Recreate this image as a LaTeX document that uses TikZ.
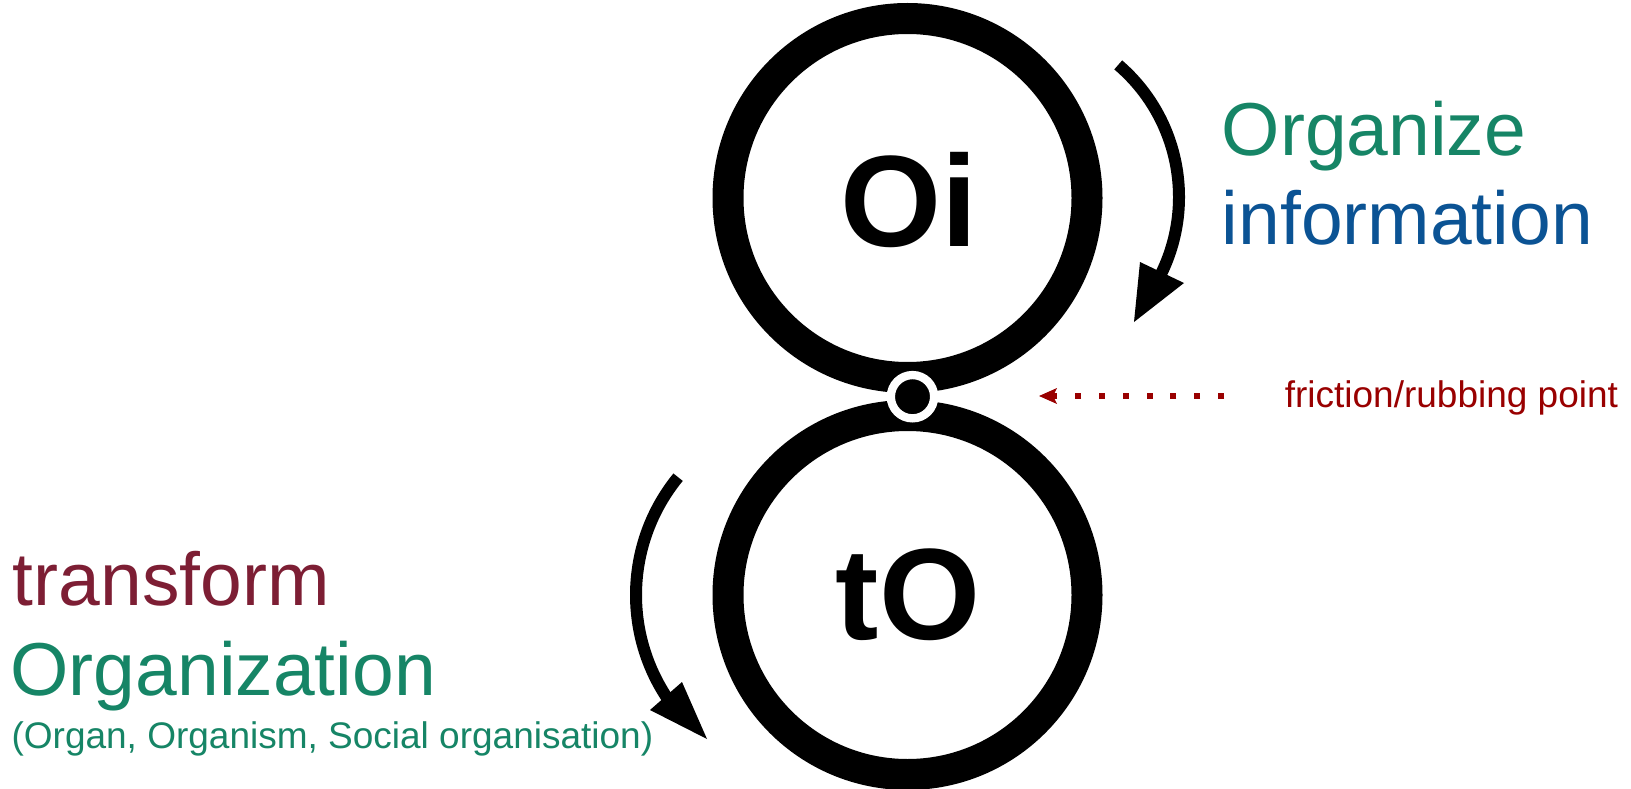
\documentclass[tikz,border=0pt]{standalone}
\usepackage{fontspec}
\setmainfont{Liberation Sans}
\usetikzlibrary{arrows.meta,calc}
\definecolor{orggreen}{RGB}{22,133,102}
\definecolor{infoblue}{RGB}{11,83,148}
\definecolor{trmaroon}{RGB}{125,30,52}
\definecolor{fricred}{RGB}{153,0,0}
\begin{document}
\begin{tikzpicture}[x=1pt,y=1pt,
  ring/.style={draw=black, line width=31pt},
  turnline/.style={draw=black, line width=12pt},
  turnhead/.style={fill=black},
  bigtext/.style={font=\fontsize{75}{88}\selectfont, inner sep=0pt, anchor=base west},
  smalltext/.style={font=\fontsize{37}{44}\selectfont, inner sep=0pt, anchor=base west},
  ringlabel/.style={font=\bfseries\fontsize{130}{150}\selectfont, inner sep=0pt, anchor=base},
  contact/.style={circle, fill=black, draw=white, line width=8.3pt, minimum size=43.3pt, inner sep=0pt},
  frictionline/.style={draw=fricred, line width=6pt, dash pattern=on 6pt off 17.83pt,
    -{Stealth[length=18pt,width=16pt,inset=4pt,line width=0pt]}}
]
\fill[white] (0,0) rectangle (1631,-789);
\useasboundingbox (0,0) rectangle (1631,-789);

% rings
\coordinate (ctop) at (907.5,-198);
\coordinate (cbot) at (907.5,-595);
\draw[ring] (ctop) circle[radius=179.5];
\draw[ring] (cbot) circle[radius=179.5];
\node[ringlabel] (oi) at (909,-246) {Oi};
\node[ringlabel] (to) at (908,-639) {tO};

% contact point
\node[contact] (fp) at (912.5,-396.7) {};

% top turning arrow
\coordinate (atop) at (1005,-197);
\draw[turnline] ($(atop)+(49.4:174)$) arc[start angle=49.4, end angle=-28, radius=174];
\fill[turnhead] (1134,-322) -- (1140,-262) -- (1184,-283) -- cycle;

% bottom turning arrow
\coordinate (abot) at (822,-595);
\draw[turnline] ($(abot)+(140.7:186)$) arc[start angle=140.7, end angle=215, radius=186];
\fill[turnhead] (707,-739) -- (650,-710) -- (682,-682) -- cycle;

% friction pointer
\node[smalltext, text=fricred] (fric) at (1284.6,-407) {friction/rubbing point};
\coordinate (fs) at (1224,-396);
\coordinate (ft) at (1039,-396);
\draw[frictionline] (fs) -- (ft);

% right labels
\node[bigtext, text=orggreen] (oz) at (1221.5,-155.5) {Organize};
\node[bigtext, text=infoblue] (inf) at (1221.7,-244) {information};

% left labels
\node[bigtext, text=trmaroon] (tr) at (12.7,-605) {transform};
\node[bigtext, text=orggreen] (org) at (10.4,-695) {Organization};
\node[smalltext, text=orggreen] (orgsub) at (11.4,-748) {(Organ, Organism, Social organisation)};
\end{tikzpicture}
\end{document}
